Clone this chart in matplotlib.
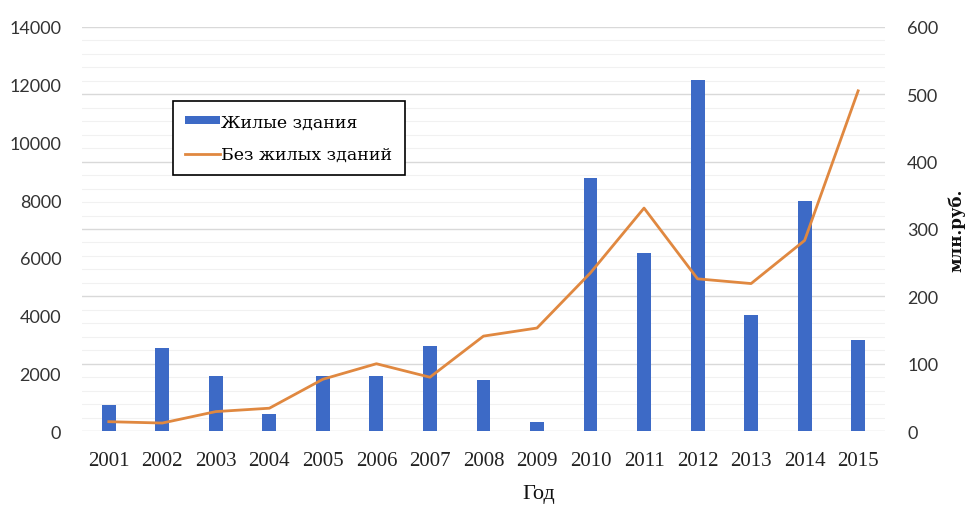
import matplotlib
matplotlib.use("Agg")
import matplotlib.pyplot as plt
from matplotlib.ticker import MultipleLocator

years = ["2001", "2002", "2003", "2004", "2005", "2006", "2007", "2008",
         "2009", "2010", "2011", "2012", "2013", "2014", "2015"]
residential = [900, 2870, 1910, 610, 1900, 1900, 2950, 1770,
               330, 8780, 6160, 12150, 4030, 7960, 3150]
non_residential = [14, 12, 29, 34, 77, 100, 80, 141,
                   153, 235, 331, 226, 219, 283, 505]
left_ticks = [0, 2000, 4000, 6000, 8000, 10000, 12000, 14000]
right_ticks = [0, 100, 200, 300, 400, 500, 600]

serif = "Liberation Serif"
wide_serif = "DejaVu Serif"
sans = "Lato"

fig = plt.figure(figsize=(9.65, 5.06), dpi=100)
ax = fig.add_axes([0.085, 0.146, 0.832, 0.799])
ax2 = ax.twinx()      # right-hand scale with the gridlines, drawn behind
ax3 = ax.twinx()      # line layer, drawn above the bars

x = list(range(len(years)))
bars = ax.bar(x, residential, width=0.26, color="#3D6AC6", zorder=3)
line, = ax3.plot(x, non_residential, color="#E08840", lw=2.0, zorder=4)

ax.set_xlim(-0.5, len(years) - 0.5)
ax.set_ylim(0, 14000)
ax2.set_ylim(0, 600)
ax3.set_ylim(0, 600)
ax.set_yticks(left_ticks)
ax2.set_yticks(right_ticks)
ax3.axis("off")

ax2.yaxis.set_minor_locator(MultipleLocator(20))
ax2.grid(True, which="major", axis="y", color="#D9D9D9", lw=1.0, zorder=0)
ax2.grid(True, which="minor", axis="y", color="#F1F1F1", lw=0.8, zorder=0)
ax2.set_zorder(0)
ax.set_zorder(1)
ax.patch.set_visible(False)
ax3.set_zorder(2)

for a in (ax, ax2):
    for s in a.spines.values():
        s.set_visible(False)
    a.tick_params(length=0, which="both")

ax.set_xticks(x)
ax.set_xticklabels(years, fontfamily=serif, fontsize=15, color="#222222")
ax.tick_params(axis="x", pad=14)
ax.tick_params(axis="y", pad=15)
ax2.tick_params(axis="y", pad=16)
for lab in list(ax.get_yticklabels()) + list(ax2.get_yticklabels()):
    lab.set_fontfamily(sans)
    lab.set_fontsize(13)
    lab.set_color("#333333")

fig.text(0.558, 0.022, "Год", ha="center", va="center",
         fontfamily=serif, fontsize=16, color="#111111")
fig.text(0.991, 0.545, "млн.руб.", ha="center", va="center", rotation=90,
         fontfamily=wide_serif, fontsize=12, fontweight="bold", color="#111111")

leg = ax3.legend([bars, line], ["Жилые здания", "Без жилых зданий"],
                 loc="upper left", bbox_to_anchor=(0.113, 0.816),
                 prop={"family": wide_serif, "size": 12.5},
                 frameon=True, fancybox=False, edgecolor="black",
                 framealpha=1, handlelength=2.0, handleheight=0.3,
                 handletextpad=0.1, borderpad=0.7, labelspacing=0.9,
                 borderaxespad=0)
leg.get_frame().set_linewidth(1.2)

fig.savefig("out.png", dpi=100)
